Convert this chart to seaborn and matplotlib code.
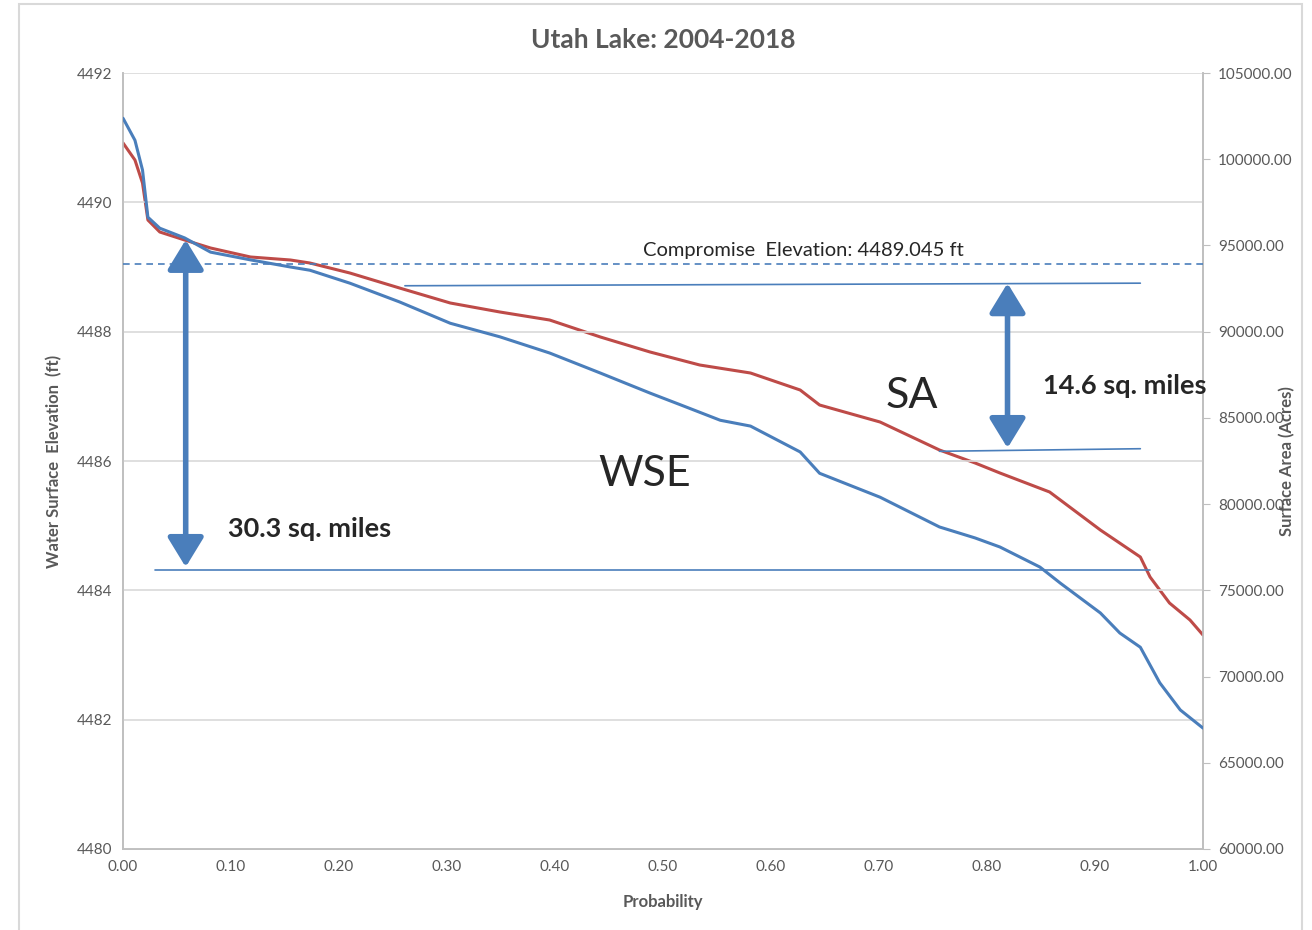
import numpy as np
import pandas as pd
import matplotlib
matplotlib.use("Agg")
import matplotlib.pyplot as plt
import seaborn as sns
from matplotlib.patches import Rectangle

# %%
# Exceedance probability curves
wse_prob = [0.000, 0.011, 0.018, 0.023, 0.034, 0.057, 0.081, 0.118, 0.155, 0.173,
            0.210, 0.256, 0.303, 0.349, 0.395, 0.442, 0.488, 0.516, 0.553, 0.581,
            0.627, 0.645, 0.701, 0.756, 0.789, 0.812, 0.849, 0.868, 0.905, 0.923,
            0.942, 0.960, 0.979, 1.000]
wse_ft = [4491.30, 4490.96, 4490.50, 4489.77, 4489.60, 4489.45, 4489.23, 4489.11, 4489.00, 4488.95,
          4488.75, 4488.46, 4488.13, 4487.92, 4487.67, 4487.36, 4487.05, 4486.87, 4486.63, 4486.54,
          4486.14, 4485.81, 4485.44, 4484.98, 4484.81, 4484.67, 4484.36, 4484.11, 4483.65, 4483.34,
          4483.12, 4482.57, 4482.15, 4481.87]

sa_prob = [0.000, 0.011, 0.018, 0.023, 0.034, 0.057, 0.081, 0.118, 0.155, 0.173,
           0.210, 0.256, 0.303, 0.349, 0.395, 0.442, 0.488, 0.534, 0.581, 0.627,
           0.645, 0.701, 0.756, 0.789, 0.812, 0.858, 0.905, 0.942, 0.951, 0.969,
           0.988, 1.000]
sa_acres = [100941, 99955, 98621, 96475, 95780, 95316, 94852, 94330, 94156, 93982,
            93402, 92532, 91662, 91140, 90676, 89691, 88821, 88067, 87603, 86617,
            85747, 84761, 83138, 82384, 81804, 80702, 78498, 76933, 75773, 74265,
            73279, 72410]

compromise_elev = 4489.045
xticks = np.arange(0, 1.0001, 0.1)
left_ticks = [4480, 4482, 4484, 4486, 4488, 4490, 4492]
right_ticks = list(range(60000, 105001, 5000))

blue = "#4A7EBB"
red = "#BE4B48"
grey = "#595959"

# %%
sns.set_style("white")
plt.rcParams["font.family"] = ["Lato", "DejaVu Sans"]

fig = plt.figure(figsize=(13.12, 9.30), dpi=100)
ax = fig.add_axes([0.0938, 0.0871, 0.8231, 0.8344])
ax2 = ax.twinx()

df_wse = pd.DataFrame({"prob": wse_prob, "wse": wse_ft})
df_sa = pd.DataFrame({"prob": sa_prob, "sa": sa_acres})
sns.lineplot(data=df_wse, x="prob", y="wse", ax=ax, color=blue, lw=2.2, zorder=4)
sns.lineplot(data=df_sa, x="prob", y="sa", ax=ax2, color=red, lw=2.2, zorder=4)

ax.set_xlim(0, 1)
ax.set_ylim(4480, 4492)
ax2.set_ylim(60000, 105000)
ax.set_xticks(xticks)
ax.set_xticklabels([f"{t:.2f}" for t in xticks])
ax.set_yticks(left_ticks)
ax2.set_yticks(right_ticks)
ax2.set_yticklabels([f"{t:.2f}" for t in right_ticks])

ax.grid(axis="y", color="#D9D9D9", lw=1.2)
ax.grid(axis="x", visible=False)
for a in (ax, ax2):
    for s in a.spines.values():
        s.set_color("#BFBFBF")
        s.set_linewidth(1.2)
    a.spines["top"].set_visible(False)
ax.tick_params(axis="both", length=0, labelsize=11, labelcolor=grey, pad=8)
ax2.tick_params(axis="y", length=5, color="#BFBFBF", labelsize=11, labelcolor=grey, pad=6)
ax.set_zorder(ax2.get_zorder() + 1)
ax.patch.set_visible(False)

ax.set_xlabel("Probability", fontsize=12, fontweight="bold", color=grey, labelpad=14)
ax.set_ylabel("Water Surface  Elevation  (ft)", fontsize=12, fontweight="bold", color=grey, labelpad=10)
ax2.set_ylabel("Surface Area (Acres)", fontsize=12, fontweight="bold", color=grey, rotation=90)
ax2.yaxis.set_label_coords(1.07, 0.5)
ax.set_title("Utah Lake: 2004-2018", fontsize=19, fontweight="bold", color=grey, pad=18)

# compromise elevation reference
ax.axhline(compromise_elev, color=blue, lw=1.2, ls=(0, (4, 3)), zorder=3)
ax.text(0.63, 4489.25, "Compromise  Elevation: 4489.045 ft", fontsize=14.5, ha="center", va="center")

# thin guide lines
ax.plot([0.261, 0.942], [4488.71, 4488.75], color=blue, lw=1.2, zorder=3)
ax.plot([0.756, 0.942], [4486.15, 4486.19], color=blue, lw=1.2, zorder=3)
ax.plot([0.030, 0.951], [4484.31, 4484.31], color=blue, lw=1.2, zorder=3)

# double arrows
arrow = dict(arrowstyle="<|-|>,head_length=0.9,head_width=0.55", lw=4, color=blue,
             mutation_scale=20, shrinkA=0, shrinkB=0)
ax.annotate("", xy=(0.058, 4489.42), xytext=(0.058, 4484.36), arrowprops=arrow, zorder=5)
ax.annotate("", xy=(0.819, 4488.75), xytext=(0.819, 4486.20), arrowprops=arrow, zorder=5)

ax.text(0.097, 4484.95, "30.3 sq. miles", fontsize=19.5, fontweight="bold", va="center")
ax.text(0.852, 4487.16, "14.6 sq. miles", fontsize=19.5, fontweight="bold", va="center")
ax.text(0.706, 4487.0, "SA", fontsize=31, va="center")
ax.text(0.440, 4485.8, "WSE", fontsize=31, va="center")

fig.patches.append(Rectangle((0.0145, -0.01), 0.978, 1.006, transform=fig.transFigure,
                             fill=False, edgecolor="#D9D9D9", lw=1.5))

fig.savefig("out.png", dpi=100)
